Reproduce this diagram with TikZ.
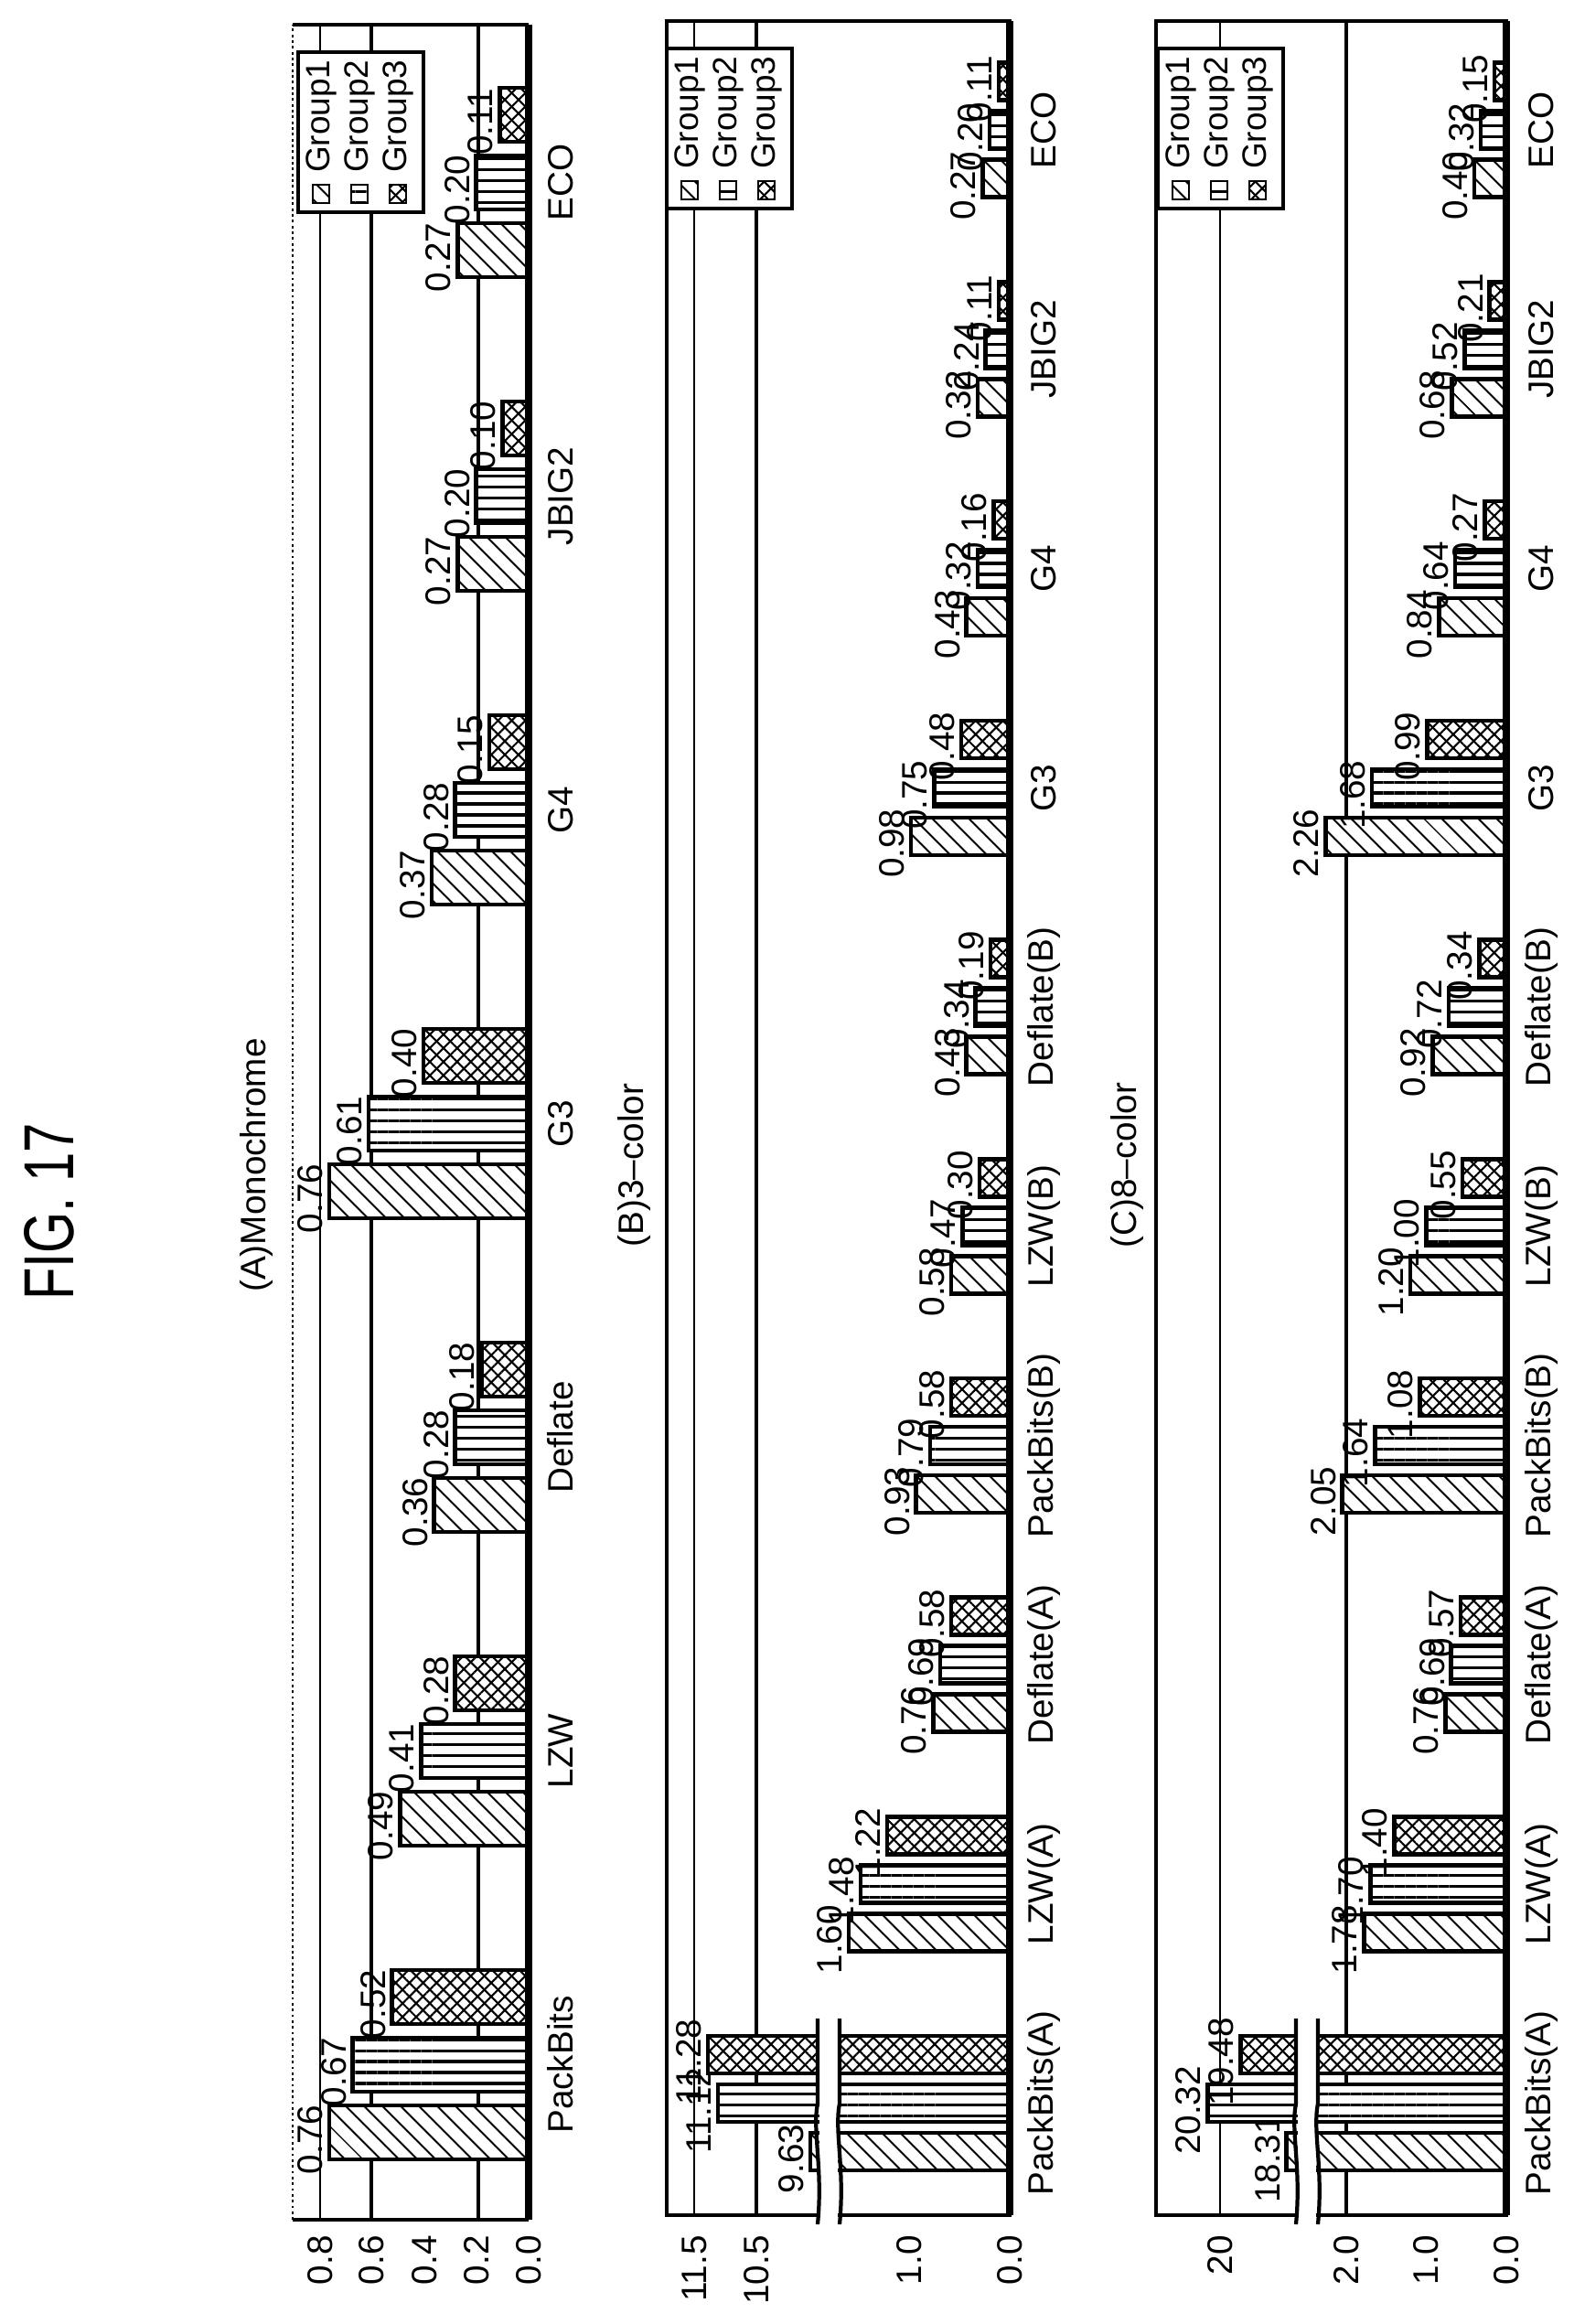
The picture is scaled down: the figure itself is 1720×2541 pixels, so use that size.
\documentclass[tikz,border=0pt]{standalone}
\usepackage{fontspec}
\setmainfont{Liberation Sans}
\usetikzlibrary{patterns.meta}

\tikzset{
    hatchbar/.style={draw, line width=1.3pt, preaction={fill=white},
        pattern={Lines[angle=-45,distance=4pt,line width=.6pt]}},
    stripebar/.style={draw, line width=1.3pt, preaction={fill=white},
        pattern={Lines[angle=0,distance=3.4pt,line width=.9pt]}},
    crossbar/.style={draw, line width=1.3pt, preaction={fill=white},
        preaction={pattern={Lines[angle=45,distance=3pt,line width=.6pt]}},
        pattern={Lines[angle=-45,distance=3pt,line width=.6pt]}},
    vlab/.style={rotate=90, anchor=south, inner sep=1pt, font=\fontsize{11}{12}\selectfont},
    catlab/.style={rotate=90, inner sep=1pt, font=\fontsize{11}{12}\selectfont},
    ticklab/.style={rotate=90, anchor=east, inner sep=1pt, font=\fontsize{11}{12}\selectfont},
    leglab/.style={rotate=90, anchor=west, inner sep=1pt, font=\fontsize{10.5}{12}\selectfont},
    grid/.style={line width=.6pt},
    gridbold/.style={line width=1.4pt},
    frame/.style={line width=1.3pt},
}

\newcount\labn
% one bar: style, lower edge, value
\newcommand\onebar[3]{%
    \pgfmathsetmacro\xt{#3<=\pbrk ? \pbase-#3*\pslo : \pxref-(#3-\pvref)*\pshi}
    \draw[#1] (\xt,#2) rectangle (\pbase,#2-\pbw);
    \global\advance\labn by 1
    \node[vlab] (val\the\labn) at (\xt-3,#2-\pbw/2+8) {#3};
}
% one group of three bars
\newcommand\groupbars[5]{%
    \pgfmathsetmacro\yb{\pyzero-#1*\ppitch}
    \onebar{hatchbar}{\yb}{#3}
    \pgfmathsetmacro\yy{\yb-\pstep}
    \onebar{stripebar}{\yy}{#4}
    \pgfmathsetmacro\yy{\yb-2*\pstep}
    \onebar{crossbar}{\yy}{#5}
    \pgfmathsetmacro\yc{\yb-\pstep-\pbw/2}
    \node[catlab] (cat\pname#1) at (\pcatx,\yc) {#2};
}
% legend box
\newcommand\legendbox[3]{%
    \draw[line width=1.2pt, fill=white] (#1,#2) rectangle (#1+137,#2+175);
    \foreach \sty/\txt [count=\r from 0] in {hatchbar/Group1,stripebar/Group2,crossbar/Group3} {
        \pgfmathsetmacro\lx{#1+25+\r*42}
        \draw[\sty, line width=.8pt] (\lx-9,#2+145) rectangle (\lx+9,#2+165);
        \node[leglab] (leg#3\r) at (\lx,#2+136) {\txt};
    }
}

\begin{document}
\begin{tikzpicture}[x=0.01cm, y=-0.01cm]
    \useasboundingbox (0,0) rectangle (1720,2541);

    \node[rotate=90] (fig) at (54,1325) {\fontsize{22}{26}\selectfont\scalebox{.75}[1]{FIG. 17}};
    \node[catlab] (titA) at (280,1274) {(A)Monochrome};
    \node[catlab] (titB) at (693,1274) {(B)3--color};
    \node[catlab] (titC) at (1232,1274) {(C)8--color};

    %(A) monochrome
    \draw[line width=.8pt, densely dotted] (320,2427) -- (320,27);
    \draw[frame] (320,27) -- (578,27);
    \draw[frame] (320,2427) -- (578,2427);
    \draw[grid] (350,27) -- (350,2427);
    \draw[gridbold] (406,27) -- (406,2427);
    \draw[gridbold] (523,27) -- (523,2427);
    \def\pname{A}\def\pbase{578}\def\pslo{287}\def\pbrk{10}
    \def\pxref{0}\def\pvref{0}\def\pshi{0}
    \def\pyzero{2361}\def\ppitch{343}\def\pstep{74}\def\pbw{59}\def\pcatx{613}
    \foreach \cat/\va/\vb/\vc [count=\k from 0] in {PackBits/0.76/0.67/0.52,
        LZW/0.49/0.41/0.28, Deflate/0.36/0.28/0.18, G3/0.76/0.61/0.40,
        G4/0.37/0.28/0.15, JBIG2/0.27/0.20/0.10, ECO/0.27/0.20/0.11} {
        \groupbars{\k}{\cat}{\va}{\vb}{\vc}
    }
    \draw[line width=2pt] (578,27) -- (578,2427);
    \legendbox{326}{57}{A}
    \foreach \t/\v in {0.8/350,0.6/406,0.4/464,0.2/521,0.0/578} {
        \node[ticklab] (tickA\t) at (\v,2440) {\t};
    }

    %(B) 3-color
    \draw[frame] (729,23) rectangle (1104,2422);
    \draw[grid] (759,23) -- (759,2422);
    \draw[gridbold] (827,23) -- (827,2422);
    \def\pname{B}\def\pbase{1104}\def\pslo{110}\def\pbrk{1.69}
    \def\pxref{827}\def\pvref{10.5}\def\pshi{68}
    \def\pyzero{2373}\def\ppitch{239.7}\def\pstep{53}\def\pbw{41}\def\pcatx{1141}
    \foreach \cat/\va/\vb/\vc [count=\k from 0] in {PackBits(A)/9.63/11.12/11.28,
        LZW(A)/1.60/1.48/1.22, Deflate(A)/0.76/0.69/0.58, PackBits(B)/0.93/0.79/0.58,
        LZW(B)/0.58/0.47/0.30, Deflate(B)/0.43/0.34/0.19, G3/0.98/0.75/0.48,
        G4/0.43/0.32/0.16, JBIG2/0.32/0.24/0.11, ECO/0.27/0.20/0.11} {
        \groupbars{\k}{\cat}{\va}{\vb}{\vc}
    }
    \fill[white] (896,2207) rectangle (916,2445);
    \draw[line width=1.2pt] (894,2207) -- (894,2300) .. controls (888,2330) and (900,2370) .. (894,2432);
    \draw[line width=1.2pt] (918,2207) -- (918,2300) .. controls (912,2330) and (924,2370) .. (918,2432);
    \draw[line width=2pt] (1104,23) -- (1104,2422);
    \legendbox{729}{53}{B}
    \foreach \t/\v in {11.5/759,10.5/827,1.0/994,0.0/1104} {
        \node[ticklab] (tickB\t) at (\v,2440) {\t};
    }

    %(C) 8-color
    \draw[frame] (1264,23) rectangle (1647,2422);
    \draw[grid] (1334,23) -- (1334,2422);
    \draw[gridbold] (1472,23) -- (1472,2422);
    \def\pname{C}\def\pbase{1647}\def\pslo{87.5}\def\pbrk{2.35}
    \def\pxref{1334}\def\pvref{20}\def\pshi{43}
    \def\pcatx{1685}
    \foreach \cat/\va/\vb/\vc [count=\k from 0] in {PackBits(A)/18.31/20.32/19.48,
        LZW(A)/1.78/1.70/1.40, Deflate(A)/0.76/0.69/0.57, PackBits(B)/2.05/1.64/1.08,
        LZW(B)/1.20/1.00/0.55, Deflate(B)/0.92/0.72/0.34, G3/2.26/1.68/0.99,
        G4/0.84/0.64/0.27, JBIG2/0.68/0.52/0.21, ECO/0.40/0.32/0.15} {
        \groupbars{\k}{\cat}{\va}{\vb}{\vc}
    }
    \fill[white] (1419,2207) rectangle (1439,2445);
    \draw[line width=1.2pt] (1417,2207) -- (1417,2300) .. controls (1411,2330) and (1423,2370) .. (1417,2432);
    \draw[line width=1.2pt] (1441,2207) -- (1441,2300) .. controls (1435,2330) and (1447,2370) .. (1441,2432);
    \draw[line width=2pt] (1647,23) -- (1647,2422);
    \legendbox{1266}{53}{C}
    \foreach \t/\v in {20/1334,2.0/1472,1.0/1559,0.0/1647} {
        \node[ticklab] (tickC\t) at (\v,2440) {\t};
    }

\end{tikzpicture}
\end{document}
